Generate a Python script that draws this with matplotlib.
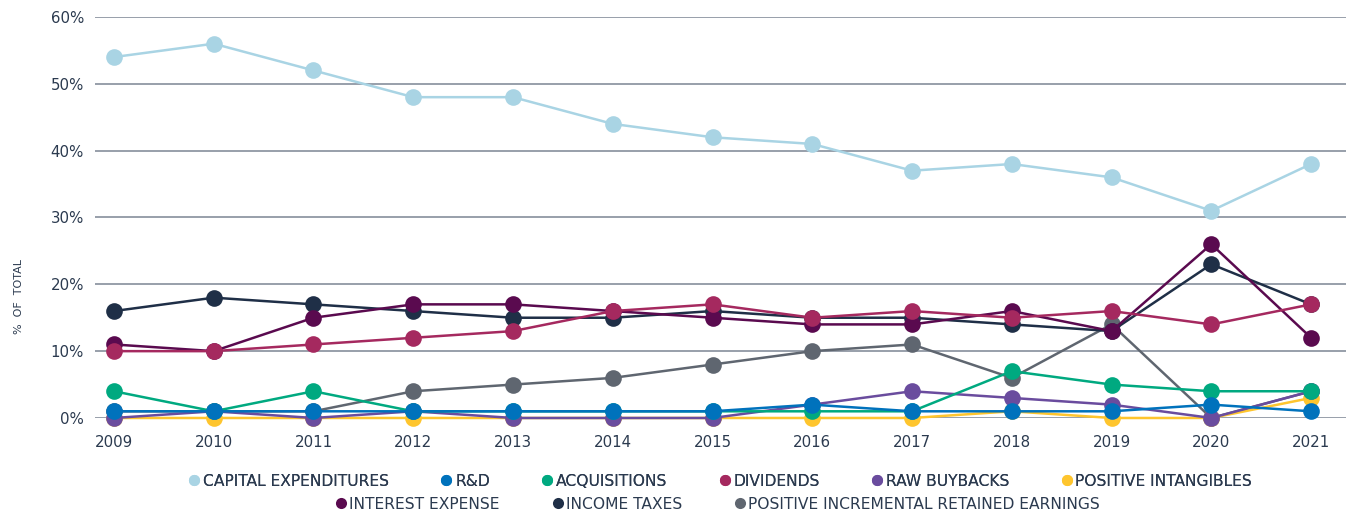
import matplotlib.pyplot as plt
from matplotlib.lines import Line2D

years = list(range(2009, 2022))

capex = [54, 56, 52, 48, 48, 44, 42, 41, 37, 38, 36, 31, 38]
rnd = [1, 1, 1, 1, 1, 1, 1, 2, 1, 1, 1, 2, 1]
acquisitions = [4, 1, 4, 1, 1, 1, 1, 1, 1, 7, 5, 4, 4]
dividends = [10, 10, 11, 12, 13, 16, 17, 15, 16, 15, 16, 14, 17]
buybacks = [0, 1, 0, 1, 0, 0, 0, 2, 4, 3, 2, 0, 4]
intangibles = [0, 0, 0, 0, 0, 0, 0, 0, 0, 1, 0, 0, 3]
interest = [11, 10, 15, 17, 17, 16, 15, 14, 14, 16, 13, 26, 12]
taxes = [16, 18, 17, 16, 15, 15, 16, 15, 15, 14, 13, 23, 17]
retained = [1, 1, 1, 4, 5, 6, 8, 10, 11, 6, 14, 0, 4]

labels = ["CAPITAL EXPENDITURES", "R&D", "ACQUISITIONS", "DIVIDENDS", "RAW BUYBACKS",
          "POSITIVE INTANGIBLES", "INTEREST EXPENSE", "INCOME TAXES",
          "POSITIVE INCREMENTAL RETAINED EARNINGS"]
series = [capex, rnd, acquisitions, dividends, buybacks, intangibles, interest, taxes, retained]
colors = ["#a9d4e4", "#0072bc", "#00a980", "#a5295f", "#6a4c9e", "#fec52e",
          "#5a0a4f", "#1f2f47", "#5f6670"]

text_color = "#2b3a4f"
plt.rcParams["font.family"] = ["DejaVu Sans"]

fig = plt.figure(figsize=(13.46, 5.14), dpi=100)
ax = fig.add_axes([0.0706, 0.1868, 0.9294, 0.7802])

# draw in reverse so the first series ends up on top
for i in reversed(range(len(series))):
    ax.plot(years, series[i], color=colors[i], lw=1.8, marker="o", ms=12,
            mec="none", clip_on=False, zorder=3 + (len(series) - i))

ax.set_xlim(2008.81, 2021.35)
ax.set_ylim(0, 60)
ax.set_yticks(range(0, 61, 10))
ax.set_yticklabels([f"{v}%" for v in range(0, 61, 10)])
ax.set_xticks(years)
ax.yaxis.grid(True, color="#7c8593", lw=1.1, zorder=0)
ax.tick_params(length=0, labelsize=10.8, labelcolor=text_color)
ax.tick_params(axis="x", pad=12)
ax.tick_params(axis="y", pad=8)
for s in ax.spines.values():
    s.set_visible(False)

fig.text(0.014, 0.424, "%  OF  TOTAL", rotation=90, ha="center", va="center",
         fontsize=8, color=text_color)

handles = [Line2D([], [], ls="none", marker="o", ms=8, mec="none", color=c) for c in colors]
leg_kw = dict(loc="center", frameon=False, handletextpad=0.15, columnspacing=3.3,
              handlelength=0.8, labelcolor=text_color,
              prop={"family": "DejaVu Sans", "size": 11.2})
leg1 = fig.legend(handles[:6], labels[:6], bbox_to_anchor=(0.535, 0.064), ncol=6, **leg_kw)
fig.legend(handles[6:], labels[6:], bbox_to_anchor=(0.533, 0.019), ncol=3, **leg_kw)
fig.add_artist(leg1)

fig.savefig("out.png", dpi=100)
